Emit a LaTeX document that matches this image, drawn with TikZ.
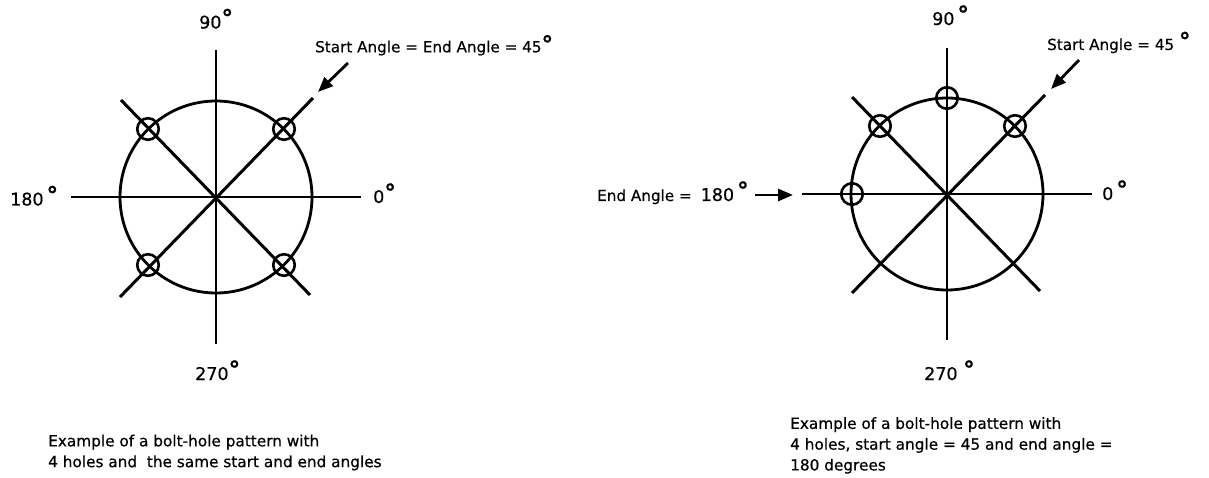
\documentclass[tikz,border=0pt]{standalone}
\usepackage{fontspec}
\setmainfont{DejaVu Sans}[FakeBold=0.5]
\usetikzlibrary{arrows.meta}
\newcommand{\degsym}[1][2.5pt]{\raisebox{#1}{\fontsize{23}{23}\selectfont\bfseries °}}
\begin{document}
\begin{tikzpicture}[x=1pt,y=-1pt,
  axis/.style={line width=2.6pt},
  diag/.style={line width=3pt},
  bolt/.style={line width=2.8pt},
  hole/.style={circle, draw, line width=2.6pt, minimum size=21.5pt, inner sep=0pt},
  arr/.style={line width=2.8pt, -{Triangle[length=15pt,width=12pt]}},
  big/.style={font=\fontsize{17.5}{20}\selectfont, inner sep=0pt, anchor=base west},
  small/.style={font=\fontsize{15.2}{21}\selectfont, inner sep=0pt, anchor=base west},
  captext/.style={font=\fontsize{15.3}{20.8}\selectfont, inner sep=0pt, anchor=north west, align=left}]
\fill[white] (0,0) rectangle (1209,478);
\useasboundingbox (0,0) rectangle (1209,478);

% ---------- left diagram ----------
\coordinate (lc) at (216,197);
\coordinate (lN) at (216,50);
\coordinate (lS) at (216,344);
\coordinate (lW) at (71,197);
\coordinate (lE) at (361,197);
\coordinate (lNW) at (121,100);
\coordinate (lNE) at (313,98);
\coordinate (lSW) at (120,297);
\coordinate (lSE) at (310,295);
\draw[bolt] (lc) circle[radius=96];
\draw[axis] (lN) -- (lS);
\draw[axis] (lW) -- (lE);
\draw[diag] (lNW) -- (lSE);
\draw[diag] (lNE) -- (lSW);
\node[hole] (lh1) at (284,129) {};
\node[hole] (lh2) at (148,129) {};
\node[hole] (lh3) at (148,265) {};
\node[hole] (lh4) at (284,265) {};

\node[big] (l90) at (199,28.5) {90\degsym};
\node[big] (l270) at (195,380) {270\degsym};
\node[big] (l180) at (10,205.5) {180\,\degsym};
\node[big] (l0) at (373,203) {0\degsym};
\node[small] (lstart) at (315,52.3) {Start Angle = End Angle = 45\degsym[0pt]};
\coordinate (la1) at (348,63);
\coordinate (la2) at (318,92);
\draw[arr] (la1) -- (la2);
\node[captext] (lcap) at (48,434.5) {Example of a bolt-hole pattern with\\4 holes and\ \ the same start and end angles};

% ---------- right diagram ----------
\coordinate (rc) at (947,194);
\coordinate (rN) at (947,48);
\coordinate (rS) at (947,340);
\coordinate (rW) at (802,194);
\coordinate (rE) at (1092,194);
\coordinate (rNW) at (852,97);
\coordinate (rNE) at (1045,95);
\coordinate (rSW) at (852,293);
\coordinate (rSE) at (1040,291);
\draw[bolt] (rc) circle[radius=96];
\draw[axis] (rN) -- (rS);
\draw[axis] (rW) -- (rE);
\draw[diag] (rNW) -- (rSE);
\draw[diag] (rNE) -- (rSW);
\node[hole] (rh1) at (1015,126) {};
\node[hole] (rh2) at (947,98) {};
\node[hole] (rh3) at (880,126) {};
\node[hole] (rh4) at (852,194) {};

\node[big] (r90) at (932,25) {90\,\degsym};
\node[big] (r270) at (924,380) {270\ \degsym};
\node[big] (r0) at (1102,200) {0\,\degsym};
\node[small] (rstart) at (1047,50) {Start Angle = 45 \degsym[1pt]};
\coordinate (ra1) at (1079,60);
\coordinate (ra2) at (1051,89);
\draw[arr] (ra1) -- (ra2);
\node[small] (rend) at (597,201) {End Angle =\hspace{9pt}{\fontsize{17.5}{20}\selectfont 180\,\degsym}};
\coordinate (rb1) at (755,195);
\coordinate (rb2) at (793,195);
\draw[arr] (rb1) -- (rb2);
\node[captext] (rcap) at (790,417) {Example of a bolt-hole pattern with\\4 holes, start angle = 45 and end angle =\\180 degrees};
\end{tikzpicture}
\end{document}
